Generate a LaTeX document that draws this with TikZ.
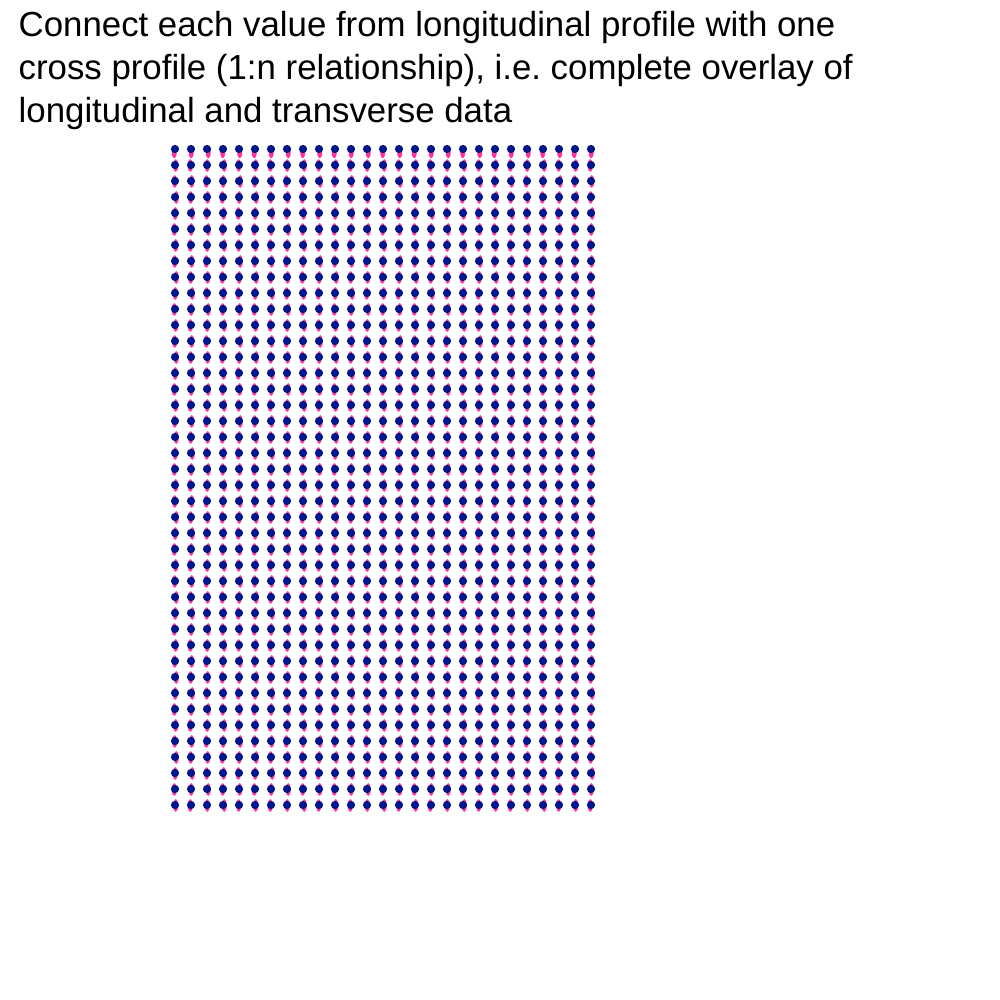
\documentclass[tikz,border=0pt]{standalone}
\usepackage{fontspec}
\setmainfont{Liberation Sans}
\definecolor{dotblue}{RGB}{0,22,140}
\definecolor{dotpink}{RGB}{255,51,153}
\begin{document}
\begin{tikzpicture}[x=0.01cm,y=-0.01cm,
  titletext/.style={anchor=north west,align=left,inner sep=0pt,font=\fontsize{9.9pt}{12.2pt}\selectfont,text=black},
  pinkmark/.style={fill=dotpink},
  bluedot/.style={fill=dotblue}]
\useasboundingbox[fill=white] (0,0) rectangle (1000,1000);
\node[titletext] (title) at (18,11) {Connect each value from longitudinal profile with one\\cross profile (1:n relationship), i.e.\ complete overlay of\\longitudinal and transverse data};
\foreach \i in {0,...,26}{
  \foreach \j in {0,...,41}{
    \pgfmathsetmacro{\dx}{mod(\i*7+\j*3,5)/2-0.8}
    \pgfmathsetmacro{\dy}{\j==0 ? 3 : 0.5}
    \fill[pinkmark] (175+16*\i+\dx,149+16*\j+\dy) ellipse [x radius=2.5, y radius=6.4];
  }
}
\foreach \i in {0,...,26}{
  \foreach \j in {0,...,41}{
    \fill[bluedot] (175+16*\i,149+16*\j) circle [radius=4.1];
  }
}
\end{tikzpicture}
\end{document}
